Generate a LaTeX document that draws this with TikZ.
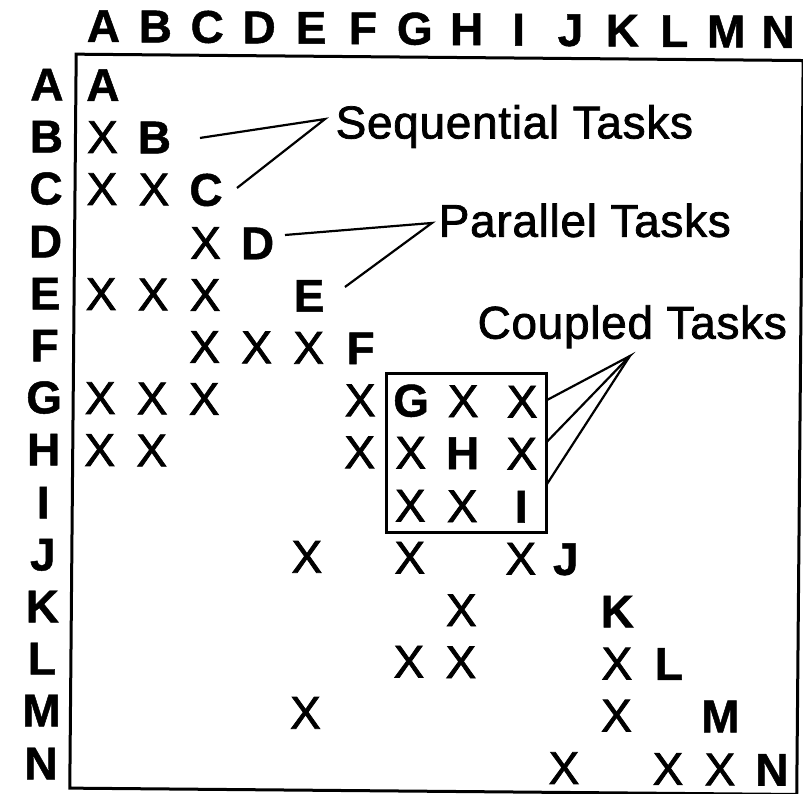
\documentclass[tikz,border=0pt]{standalone}
\usepackage{fontspec}
\setmainfont{Liberation Sans}
% slightly heavier strokes for the printed look
\newfontfamily\plainletters{Liberation Sans}[FakeBold=1.6]
\newfontfamily\heavyletters{Liberation Sans Bold}[FakeBold=1.0]
\newfontfamily\labelletters{Liberation Sans}[FakeBold=1.6, LetterSpace=1.5]
\begin{document}
\begin{tikzpicture}[x=1pt,y=-1pt,
  letterbox/.style={inner sep=0pt, text height=33pt, text depth=0pt,
    font=\fontsize{46}{46}\heavyletters},
  xmark/.style={inner sep=0pt, text height=33pt, text depth=0pt,
    font=\fontsize{46}{46}\plainletters},
  tasklabel/.style={inner sep=0pt, anchor=base west,
    font=\fontsize{46}{46}\labelletters},
  leader/.style={line width=2.2pt},
  matrixframe/.style={line width=3pt},
  groupbox/.style={draw, line width=2.5pt, inner sep=0pt}]
\useasboundingbox (0,0) rectangle (803,793);

% column and row positions of the matrix
\foreach \l/\v in {A/100,B/152,C/204,D/256,E/308,F/360,G/411,H/463,I/522,J/567,K/619,L/671,M/723,N/775}
  {\expandafter\xdef\csname cx\l\endcsname{\v}}
\foreach \l/\v in {A/87,B/139,C/191,D/244,E/296,F/348,G/400,H/452,I/505,J/557,K/609,L/661,M/713,N/766}
  {\expandafter\xdef\csname ry\l\endcsname{\v}}

\begin{scope}[rotate around={-0.5:(400,420)}]
  % outer frame
  \draw[matrixframe] (73,57) rectangle (800,791);

  % column headings, row headings and the diagonal
  \foreach \l [count=\i from 0] in {A,B,C,D,E,F,G,H,I,J,K,L,M,N} {
    \node[letterbox] (col\l) at ({100+51.9*\i},28) {\l};
    \node[letterbox] (row\l) at (44,\csname ry\l\endcsname) {\l};
    \node[letterbox] (diag\l) at (\csname cx\l\endcsname,\csname ry\l\endcsname) {\l};
  }

  % dependency marks (row / column)
  \foreach \r/\c in {B/A, C/A, C/B, D/C, E/A, E/B, E/C, F/C, F/D, F/E,
      G/A, G/B, G/C, G/F, G/H, G/I, H/A, H/B, H/F, H/G, H/I, I/G, I/H,
      J/E, J/G, J/I, K/H, L/G, L/H, L/K, M/E, M/K, N/J, N/L, N/M}
    \node[xmark] (x\r\c) at (\csname cx\c\endcsname,\csname ry\r\endcsname) {X};

  % coupled block G--I
  \node[groupbox, minimum width=160pt, minimum height=159pt] (cbox) at (467,452.5) {};

  % sequential tasks
  \node[tasklabel] (seq) at (333,139) {Sequential Tasks};
  \coordinate (seqtip) at (322.4,119.7);
  \coordinate (seqB) at (197.5,139.7);
  \coordinate (seqC) at (235,189.4);
  \draw[leader] (seqB) -- (seqtip) -- (seqC);

  % parallel tasks
  \node[tasklabel] (par) at (437,236.5) {Parallel Tasks};
  \coordinate (partip) at (430.3,222.7);
  \coordinate (parD) at (283.4,236);
  \coordinate (parE) at (343.8,287.5);
  \draw[leader] (parD) -- (partip) -- (parE);

  % coupled tasks
  \node[tasklabel] (cpl) at (476.7,338) {Coupled Tasks};
  \coordinate (cpltip) at (629.4,354);
  \coordinate (cplG) at (547,398.7);
  \coordinate (cplH) at (547,440.7);
  \coordinate (cplI) at (547,483.7);
  \draw[leader] (cplG) -- (cpltip) -- (cplH);
  \draw[leader] (cpltip) -- (cplI);
\end{scope}
\end{tikzpicture}
\end{document}
